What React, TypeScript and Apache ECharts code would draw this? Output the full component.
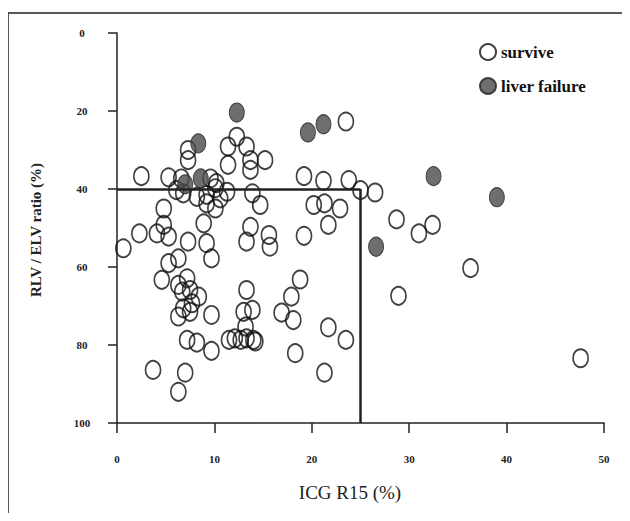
import React, { useEffect, useRef } from "react";
import * as echarts from "echarts";

const xTicks = [0, 10, 20, 30, 40, 50];
const yTicks = [0, 20, 40, 60, 80, 100];

const surviveData: [number, number][] = [
  [12.3, 26.6], [11.4, 29.1], [13.3, 29.1], [7.3, 30], [7.3, 32.6], [11.4, 33.8],
  [13.7, 32.6], [13.7, 35.1], [15.2, 32.6], [2.5, 36.7], [5.3, 37], [19.2, 36.7],
  [23.5, 22.7], [21.2, 37.9], [23.8, 37.7], [25.0, 40.3], [26.5, 40.9], [20.2, 44.1],
  [21.3, 43.7], [22.9, 45], [14.7, 44.1], [28.7, 47.8], [32.4, 49.2], [31.0, 51.4],
  [21.7, 49.2], [19.2, 52], [15.6, 51.8], [15.7, 54.8], [13.7, 49.7], [13.3, 53.5],
  [36.3, 60.3], [28.9, 67.4], [18.8, 63.2], [17.9, 67.6], [16.9, 71.7], [18.1, 73.6],
  [21.7, 75.5], [23.5, 78.7], [18.3, 82.1], [21.3, 87.1], [47.6, 83.4], [14.0, 78.7],
  [0.65, 55.2], [2.3, 51.4], [4.1, 51.4], [4.8, 49.2], [5.3, 52.2], [4.8, 45],
  [7.3, 53.5], [8.9, 48.8], [9.2, 53.9], [9.7, 57.8], [9.2, 43.7], [10.1, 45],
  [6.3, 57.8], [5.3, 59], [4.6, 63.3], [6.3, 64.6], [7.2, 62.9], [6.7, 66.3],
  [7.5, 65.9], [8.4, 67.6], [7.7, 69.3], [6.8, 70.6], [6.3, 72.7], [7.5, 71.5],
  [9.7, 72.3], [13.3, 65.9], [13.0, 71.5], [13.9, 71], [13.2, 75.3], [7.2, 78.7],
  [8.2, 79.4], [9.7, 81.5], [11.5, 78.7], [12.1, 78.3], [12.7, 78.7], [13.3, 78.3],
  [14.2, 79.1], [3.7, 86.4], [7.0, 87.1], [6.3, 92], [6.1, 40.3], [6.8, 41.1],
  [8.2, 42], [9.2, 41.5], [10.1, 39.8], [10.6, 42.4], [11.3, 40.7], [13.9, 41.1],
  [6.6, 37.3], [9.6, 37.3], [10.2, 38.5],
];

const failureData: [number, number][] = [
  [12.3, 20.4], [8.35, 28.3], [21.2, 23.4], [19.6, 25.5], [32.5, 36.7],
  [39.0, 42.1], [26.6, 54.8], [7.0, 38.8], [8.6, 37.3],
];

const cutoffX = 25;
const cutoffY = 40;

const serif = '"Liberation Serif", "Times New Roman", serif';

export default function App() {
  const ref = useRef<HTMLDivElement>(null);
  useEffect(() => {
    if (!ref.current) return;
    const chart = echarts.init(ref.current, undefined, { renderer: "svg" });
    chart.setOption({
      animation: false,
      backgroundColor: "#ffffff",
      grid: { left: 117, right: 26, top: 33, bottom: 98 },
      legend: {
        orient: "vertical",
        left: 474,
        top: 37,
        itemGap: 14,
        itemWidth: 16,
        itemHeight: 19,
        data: ["survive", "liver failure"],
        textStyle: { fontFamily: serif, fontSize: 17, fontWeight: "bold", color: "#111", lineHeight: 20 },
      },
      xAxis: {
        type: "value",
        min: xTicks[0],
        max: xTicks[xTicks.length - 1],
        interval: 10,
        axisLine: { onZero: false, lineStyle: { color: "#222", width: 1.5 } },
        axisTick: { show: true, length: 10, lineStyle: { color: "#222", width: 1.5 } },
        axisLabel: { margin: 30, fontFamily: serif, fontSize: 11, fontWeight: "bold", color: "#222" },
        splitLine: { show: false },
      },
      yAxis: {
        type: "value",
        inverse: true,
        min: yTicks[0],
        max: yTicks[yTicks.length - 1],
        interval: 20,
        axisLine: { show: true, onZero: false, lineStyle: { color: "#222", width: 1.5 } },
        axisTick: { show: true, length: 9, lineStyle: { color: "#222", width: 1.5 } },
        axisLabel: { margin: 35, align: "center", fontFamily: serif, fontSize: 11, fontWeight: "bold", color: "#222" },
        splitLine: { show: false },
      },
      graphic: [
        {
          type: "rect",
          shape: { x: 8, y: 13, width: 619, height: 504 },
          style: { fill: "none", stroke: "#222", lineWidth: 1.5 },
          silent: true,
        },
        {
          type: "text",
          x: 350,
          y: 492,
          style: { text: "ICG R15 (%)", font: `19px ${serif}`, fill: "#222", textAlign: "center", textVerticalAlign: "middle" },
        },
        {
          type: "text",
          x: 36,
          y: 230,
          rotation: Math.PI / 2,
          style: { text: "RLV / ELV ratio (%)", font: `bold 15px ${serif}`, fill: "#222", textAlign: "center", textVerticalAlign: "middle" },
        },
      ],
      series: [
        {
          name: "survive",
          type: "scatter",
          data: surviveData,
          symbol: "circle",
          symbolSize: [15, 18],
          itemStyle: { color: "rgba(255,255,255,0)", borderColor: "#111", borderWidth: 1.8 },
          z: 2,
          markLine: {
            silent: true,
            symbol: "none",
            label: { show: false },
            lineStyle: { color: "#222", width: 2.5, type: "solid" },
            data: [
              [{ coord: [0, cutoffY] }, { coord: [cutoffX, cutoffY] }],
              [{ coord: [cutoffX, cutoffY] }, { coord: [cutoffX, 100] }],
            ],
          },
        },
        {
          name: "liver failure",
          type: "scatter",
          data: failureData,
          symbol: "circle",
          symbolSize: [15, 19],
          itemStyle: { color: "#4a4a4a", borderColor: "#222", borderWidth: 1 },
          z: 3,
        },
      ],
    });
    return () => chart.dispose();
  }, []);
  return <div ref={ref} style={{ width: 630, height: 521, margin: -8 }} />;
}
